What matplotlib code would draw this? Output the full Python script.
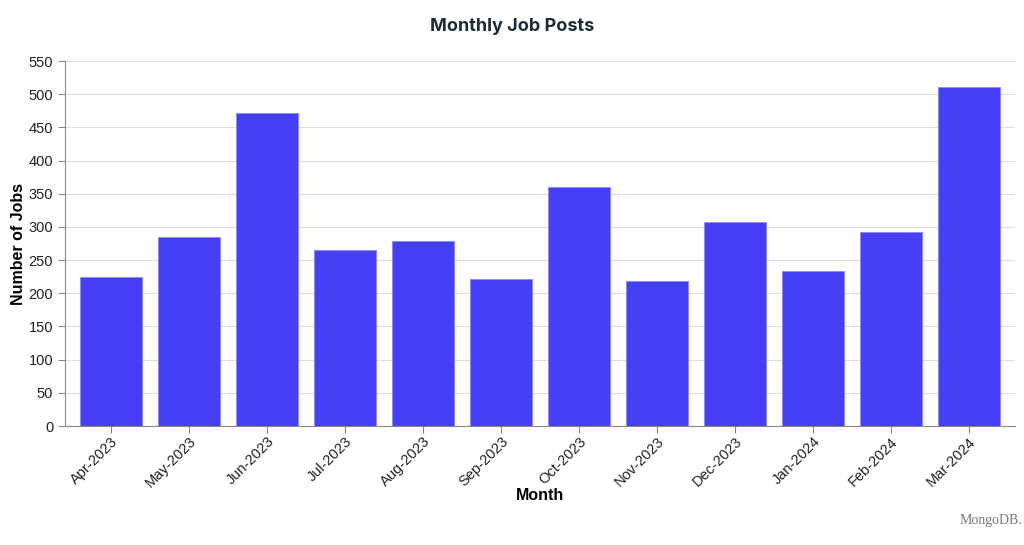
import matplotlib.pyplot as plt
import numpy as np

months = ["Apr-2023", "May-2023", "Jun-2023", "Jul-2023", "Aug-2023", "Sep-2023",
          "Oct-2023", "Nov-2023", "Dec-2023", "Jan-2024", "Feb-2024", "Mar-2024"]
jobs = [225, 285, 472, 265, 279, 221, 360, 218, 308, 234, 292, 511]

plt.rcParams['font.family'] = ['Liberation Sans', 'DejaVu Sans']

fig = plt.figure(figsize=(10.24, 5.45), dpi=100)
ax = fig.add_axes([0.0635, 0.2183, 0.9275, 0.6697])

x = np.arange(len(months))
ax.bar(x, jobs, width=0.8, color="#463FF6", edgecolor="#8C88F8", linewidth=0.6, zorder=3)

ax.set_xlim(-0.59, len(months) - 0.41)
ax.set_ylim(0, 550)
ax.set_yticks(np.arange(0, 551, 50))
ax.set_xticks(x)
ax.set_xticklabels(months, rotation=45, ha="right", rotation_mode="anchor")
ax.tick_params(axis="both", labelsize=10.5, color="#888888", length=5, width=0.8, labelcolor="#222222")
ax.tick_params(axis="x", pad=1)

ax.grid(axis="y", color="#DDDDDD", linewidth=0.8, zorder=0)
for s in ["top", "right"]:
    ax.spines[s].set_visible(False)
for s in ["left", "bottom"]:
    ax.spines[s].set_color("#888888")
    ax.spines[s].set_linewidth(0.8)

ax.set_xlabel("Month", fontsize=11.5, fontweight="bold", labelpad=-2)
ax.set_ylabel("Number of Jobs", fontsize=11.5, fontweight="bold", labelpad=2)

fig.text(0.5, 0.952, "Monthly Job Posts", ha="center", va="center", fontsize=13,
         fontweight="bold", color="#1C2D38", family=["Inter", "DejaVu Sans"])
fig.text(0.998, 0.045, "MongoDB.", ha="right", va="center", fontsize=10,
         color="#777777", family=["Liberation Serif", "DejaVu Serif"])

fig.savefig("out.png", dpi=100)
